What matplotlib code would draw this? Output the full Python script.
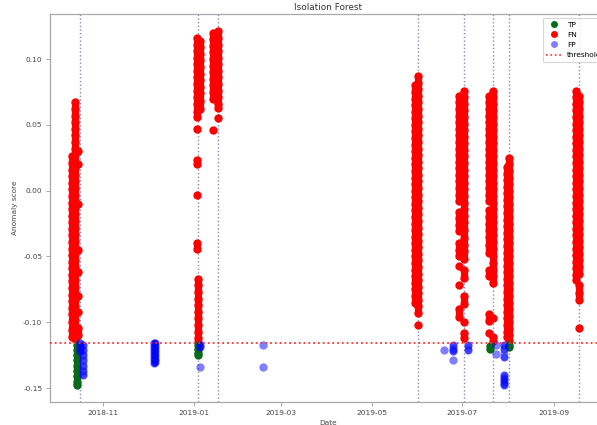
import numpy as np
import pandas as pd
import matplotlib
matplotlib.use("Agg")
import matplotlib.pyplot as plt
import matplotlib.dates as mdates
from matplotlib.lines import Line2D

# anomaly scores per detection day, grouped by outcome
fn_columns = [
    ("2018-10-13", [0.067, 0.062, 0.057, 0.052, 0.047, 0.042, 0.037, 0.032, 0.027, 0.022, 0.017, 0.012, 0.007,
                    0.002, -0.003, -0.008, -0.013, -0.018, -0.023, -0.028, -0.033, -0.038, -0.043, -0.048,
                    -0.053, -0.058, -0.063, -0.068, -0.073, -0.078, -0.083, -0.088, -0.093, -0.098, -0.103,
                    -0.108, -0.113]),
    ("2018-10-11", [0.026, 0.021, 0.016, 0.011, 0.006, 0.001, -0.004, -0.009, -0.014, -0.019, -0.024, -0.029,
                    -0.034, -0.039, -0.044, -0.049, -0.054, -0.059, -0.064, -0.069, -0.074, -0.079, -0.084,
                    -0.089, -0.094, -0.100, -0.106, -0.111]),
    ("2018-10-15", [0.030, 0.020, -0.010, -0.045, -0.062, -0.080, -0.092, -0.104, -0.110]),
    ("2019-01-03", [0.116, 0.111, 0.106, 0.101, 0.096, 0.091, 0.086, 0.081, 0.076, 0.071, 0.066, 0.060, 0.056,
                    0.047, 0.023, 0.020, -0.003, -0.040, -0.044]),
    ("2019-01-05", [0.114, 0.109, 0.104, 0.099, 0.094, 0.089, 0.084, 0.079, 0.074, 0.068, 0.062]),
    ("2019-01-04", [-0.067, -0.072, -0.077, -0.082, -0.087, -0.092, -0.097, -0.102, -0.107, -0.112, -0.115]),
    ("2019-01-14", [0.120, 0.115, 0.110, 0.105, 0.100, 0.095, 0.090, 0.085, 0.080, 0.075, 0.070, 0.046]),
    ("2019-01-17", [0.121, 0.116, 0.111, 0.106, 0.101, 0.096, 0.091, 0.086, 0.081, 0.076, 0.071, 0.066, 0.063,
                    0.055]),
    ("2019-05-30", [0.080, 0.075, 0.070, 0.065, 0.060, 0.055, 0.050, 0.045, 0.040, 0.035, 0.030, 0.025, 0.020,
                    0.015, 0.010, 0.005, 0.000, -0.005, -0.010, -0.015, -0.020, -0.025, -0.030, -0.035, -0.040,
                    -0.045, -0.050, -0.055, -0.060, -0.065, -0.070, -0.075, -0.080, -0.085]),
    ("2019-06-01", [0.087, 0.082, 0.077, 0.072, 0.067, 0.062, 0.057, 0.052, 0.047, 0.042, 0.037, 0.032, 0.027,
                    0.022, 0.017, 0.012, 0.007, 0.002, -0.003, -0.008, -0.013, -0.018, -0.023, -0.028, -0.033,
                    -0.038, -0.043, -0.048, -0.053, -0.058, -0.063, -0.068, -0.073, -0.078, -0.083, -0.088,
                    -0.093, -0.102]),
    ("2019-06-29", [0.072, 0.067, 0.062, 0.057, 0.052, 0.047, 0.042, 0.037, 0.032, 0.027, 0.022, 0.017, 0.012,
                    0.007, 0.002, -0.003, -0.008, -0.016, -0.021, -0.026, -0.031, -0.040, -0.045, -0.050,
                    -0.057, -0.072, -0.090, -0.096]),
    ("2019-07-02", [0.076, 0.071, 0.066, 0.061, 0.056, 0.051, 0.046, 0.041, 0.036, 0.031, 0.026, 0.021, 0.016,
                    0.011, 0.006, 0.001, -0.004, -0.009, -0.014, -0.019, -0.024, -0.030, -0.036, -0.041, -0.046,
                    -0.052, -0.060, -0.066, -0.080, -0.086, -0.100, -0.108, -0.112]),
    ("2019-07-19", [0.072, 0.067, 0.062, 0.057, 0.052, 0.047, 0.042, 0.037, 0.032, 0.027, 0.022, 0.017, 0.012,
                    0.007, 0.002, -0.003, -0.008, -0.015, -0.020, -0.025, -0.030, -0.035, -0.041, -0.047, -0.060,
                    -0.065, -0.094, -0.099, -0.108]),
    ("2019-07-22", [0.076, 0.071, 0.066, 0.061, 0.056, 0.051, 0.046, 0.041, 0.036, 0.031, 0.026, 0.021, 0.016,
                    0.011, 0.006, 0.001, -0.004, -0.009, -0.014, -0.019, -0.024, -0.029, -0.034, -0.039, -0.044,
                    -0.050, -0.055, -0.060, -0.065, -0.070, -0.097, -0.111, -0.114]),
    ("2019-07-31", [0.018, 0.013, 0.008, 0.003, -0.002, -0.007, -0.012, -0.017, -0.022, -0.027, -0.032, -0.037,
                    -0.042, -0.047, -0.052, -0.057, -0.062, -0.067, -0.072, -0.077, -0.082, -0.087, -0.092,
                    -0.097, -0.102, -0.107, -0.111]),
    ("2019-08-02", [0.025, 0.020, 0.015, 0.010, 0.005, 0.000, -0.005, -0.010, -0.015, -0.020, -0.025, -0.030,
                    -0.035, -0.040, -0.045, -0.050, -0.055, -0.060, -0.065, -0.070, -0.075, -0.080, -0.085,
                    -0.090, -0.095, -0.100, -0.105, -0.110, -0.114]),
    ("2019-09-16", [0.076, 0.071, 0.066, 0.061, 0.056, 0.051, 0.046, 0.041, 0.036, 0.031, 0.026, 0.021, 0.016,
                    0.011, 0.006, 0.001, -0.004, -0.009, -0.014, -0.019, -0.024, -0.029, -0.034, -0.039, -0.044,
                    -0.049, -0.054, -0.059, -0.064, -0.068]),
    ("2019-09-18", [0.072, 0.067, 0.062, 0.057, 0.052, 0.047, 0.042, 0.037, 0.032, 0.027, 0.022, 0.017, 0.012,
                    0.007, 0.002, -0.003, -0.008, -0.013, -0.018, -0.023, -0.028, -0.033, -0.038, -0.043, -0.048,
                    -0.053, -0.058, -0.063, -0.072, -0.078, -0.083, -0.104]),
]

tp_columns = [
    ("2018-10-14", [-0.117, -0.121, -0.125, -0.129, -0.133, -0.137, -0.141, -0.145, -0.148]),
    ("2019-01-04", [-0.117, -0.120, -0.123, -0.125]),
    ("2019-07-20", [-0.118, -0.120]),
    ("2019-08-02", [-0.117, -0.119]),
]

fp_columns = [
    ("2018-10-18", [-0.117, -0.121, -0.125, -0.129, -0.133, -0.137, -0.140]),
    ("2018-10-16", [-0.116, -0.119, -0.122]),
    ("2018-12-05", [-0.116, -0.119, -0.122, -0.125, -0.128, -0.131]),
    ("2018-12-06", [-0.116, -0.119, -0.122, -0.125, -0.128, -0.130]),
    ("2019-01-05", [-0.117, -0.119, -0.134]),
    ("2019-02-17", [-0.117, -0.134]),
    ("2019-06-19", [-0.121]),
    ("2019-06-25", [-0.117, -0.120, -0.122, -0.129]),
    ("2019-07-05", [-0.117, -0.121]),
    ("2019-07-24", [-0.117, -0.124]),
    ("2019-07-29", [-0.117, -0.120, -0.126, -0.140, -0.142, -0.144, -0.146, -0.148]),
]

incident_dates = ["2018-10-16", "2019-01-04", "2019-01-17", "2019-06-01",
                  "2019-07-02", "2019-07-22", "2019-08-02", "2019-09-18"]
threshold = -0.116

MARKER_S = 36
RUN_GAP = 0.0065


def draw_columns(ax, columns, color, alpha=1.0, zorder=2):
    # points of one day that sit close together overlap into a solid bar
    for day, vals in columns:
        d = pd.Timestamp(day)
        vals = np.array(vals)
        ax.scatter([d] * len(vals), vals, s=MARKER_S, color=color, alpha=alpha,
                   linewidths=0, zorder=zorder)
        breaks = np.where(np.abs(np.diff(vals)) > RUN_GAP)[0] + 1
        for run in np.split(vals, breaks):
            if len(run) > 1:
                ax.plot([d] * len(run), run, color=color, alpha=alpha, lw=5.2,
                        solid_capstyle="round", zorder=zorder)


fig = plt.figure(figsize=(5.97, 4.25), dpi=100)
ax = fig.add_axes([0.0838, 0.054, 0.931, 0.913])

for d in incident_dates:
    ax.axvline(pd.Timestamp(d), color="#8e86b8", linestyle=":", linewidth=1.0, zorder=1)
ax.axhline(threshold, color="#ff3030", linestyle=":", linewidth=1.3, zorder=4)

draw_columns(ax, fn_columns, "red")
draw_columns(ax, tp_columns, "#0a6a1c", zorder=3)
draw_columns(ax, fp_columns, "blue", alpha=0.5, zorder=3)

ax.set_xlim(pd.Timestamp("2018-09-26"), pd.Timestamp("2019-10-06"))
ax.set_ylim(-0.1606, 0.1342)
ax.set_yticks([-0.15, -0.10, -0.05, 0.00, 0.05, 0.10])
ax.yaxis.set_major_formatter(plt.FormatStrFormatter("%.2f"))
ax.xaxis.set_major_locator(mdates.MonthLocator(bymonth=[1, 3, 5, 7, 9, 11]))
ax.xaxis.set_major_formatter(mdates.DateFormatter("%Y-%m"))

for sp in ax.spines.values():
    sp.set_color("#a8a8a8")
    sp.set_linewidth(0.9)
ax.tick_params(labelsize=5.3, colors="#a8a8a8", labelcolor="#444444", length=3, width=0.7, pad=2.5)

ax.set_title("Isolation Forest", fontsize=6.4, color="#333333", pad=3)
ax.set_xlabel("Date", fontsize=5.3, color="#444444", labelpad=3)
ax.set_ylabel("Anomaly score", fontsize=5.3, color="#444444", labelpad=4)

handles = [
    Line2D([], [], marker="o", linestyle="", color="#0a6a1c", markersize=4),
    Line2D([], [], marker="o", linestyle="", color="red", markersize=4),
    Line2D([], [], marker="o", linestyle="", color="#8080ff", markersize=4),
    Line2D([], [], linestyle=":", color="#ff3030", linewidth=1.2),
]
leg = ax.legend(handles, ["TP", "FN", "FP", "threshold"], loc="upper left",
                bbox_to_anchor=(539 / 597, 1 - 14 / 425), bbox_transform=fig.transFigure,
                fontsize=5.3, frameon=True, handlelength=2.2, handletextpad=0.6,
                borderpad=0.5, labelspacing=0.55)
leg.get_frame().set_edgecolor("#cccccc")
leg.get_frame().set_linewidth(0.8)

fig.savefig("out.png", dpi=100)
